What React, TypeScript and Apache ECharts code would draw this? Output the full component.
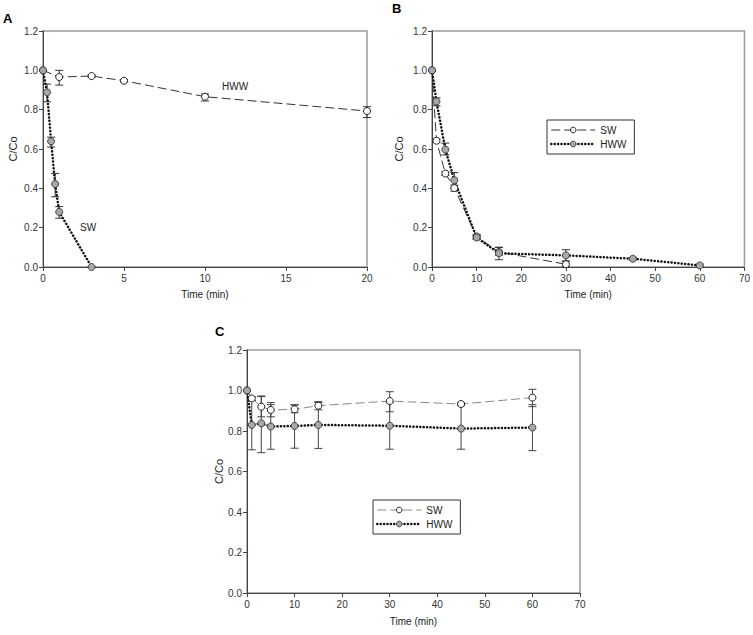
import React, { useEffect, useRef } from "react";
import * as echarts from "echarts";

// ---------- Data ----------
// Panel A
const aHwwX = [0, 1, 3, 5, 10, 20];
const aHwwY = [1.0, 0.966, 0.971, 0.947, 0.866, 0.793];
const aHwwLo = [1.0, 0.925, 0.965, 0.94, 0.844, 0.76];
const aHwwHi = [1.0, 1.0, 0.977, 0.954, 0.88, 0.815];
const aSwX = [0, 0.25, 0.5, 0.75, 1, 3];
const aSwY = [1.0, 0.888, 0.639, 0.422, 0.28, 0.0];
const aSwLo = [1.0, 0.84, 0.61, 0.357, 0.248, 0.0];
const aSwHi = [1.0, 0.93, 0.66, 0.476, 0.307, 0.0];

// Panel B
const bSwX = [0, 1, 3, 5, 10, 15, 30];
const bSwY = [1.0, 0.642, 0.475, 0.401, 0.155, 0.076, 0.014];
const bSwLo = [1.0, 0.632, 0.465, 0.386, 0.145, 0.06, 0.0];
const bSwHi = [1.0, 0.652, 0.485, 0.416, 0.165, 0.1, 0.03];
const bHwwX = [0, 1, 3, 5, 10, 15, 30, 45, 60];
const bHwwY = [1.0, 0.842, 0.597, 0.441, 0.15, 0.07, 0.059, 0.042, 0.008];
const bHwwLo = [1.0, 0.82, 0.57, 0.4, 0.14, 0.037, 0.03, 0.035, 0.0];
const bHwwHi = [1.0, 0.86, 0.63, 0.48, 0.16, 0.1, 0.088, 0.049, 0.015];

// Panel C
const cSwX = [0, 1, 3, 5, 10, 15, 30, 45, 60];
const cSwY = [1.0, 0.961, 0.92, 0.904, 0.907, 0.925, 0.948, 0.933, 0.965];
const cSwLo = [1.0, 0.95, 0.87, 0.87, 0.89, 0.905, 0.895, 0.925, 0.92];
const cSwHi = [1.0, 0.97, 0.973, 0.94, 0.928, 0.945, 0.994, 0.94, 1.006];
const cHwwX = [0, 1, 3, 5, 10, 15, 30, 45, 60];
const cHwwY = [1.0, 0.83, 0.838, 0.822, 0.825, 0.83, 0.826, 0.812, 0.817];
const cHwwLo = [1.0, 0.707, 0.693, 0.71, 0.715, 0.714, 0.71, 0.71, 0.703];
const cHwwHi = [1.0, 0.95, 0.97, 0.93, 0.93, 0.94, 0.94, 0.93, 0.93];

const yTickMin = 0;
const yTickMax = 1.2;
const yTickStep = 0.2;

const FONT = "'Liberation Sans', Arial, sans-serif";

const pts = (xs: number[], ys: number[]) => xs.map((x, i) => [x, ys[i]]);
const errs = (xs: number[], lo: number[], hi: number[]) =>
  xs.map((x, i) => [x, lo[i], hi[i]]);

function errorSeries(idx: number, data: number[][], color: string) {
  return {
    type: "custom",
    xAxisIndex: idx,
    yAxisIndex: idx,
    z: 1,
    silent: true,
    data,
    renderItem: (params: any, api: any) => {
      const x = api.value(0);
      const lo = api.value(1);
      const hi = api.value(2);
      const p1 = api.coord([x, lo]);
      const p2 = api.coord([x, hi]);
      const w = 4;
      const st = { stroke: color, lineWidth: 1 };
      return {
        type: "group",
        children: [
          { type: "line", shape: { x1: p1[0], y1: p1[1], x2: p2[0], y2: p2[1] }, style: st },
          { type: "line", shape: { x1: p1[0] - w, y1: p1[1], x2: p1[0] + w, y2: p1[1] }, style: st },
          { type: "line", shape: { x1: p2[0] - w, y1: p2[1], x2: p2[0] + w, y2: p2[1] }, style: st },
        ],
      };
    },
  };
}

const dashed = (color: string) => ({ color, width: 1, type: [9, 4] });
const dotted = { color: "#111", width: 2.5, type: [0.1, 3.3], cap: "round" };

function lineSeries(name: string, idx: number, data: number[][], open: boolean, ls: any) {
  return {
    type: "line",
    name,
    xAxisIndex: idx,
    yAxisIndex: idx,
    data,
    z: 3,
    symbol: "circle",
    symbolSize: 7,
    showSymbol: true,
    clip: false,
    lineStyle: ls,
    itemStyle: open
      ? { color: "#fff", borderColor: "#222", borderWidth: 1 }
      : { color: "#a8a8a8", borderColor: "#444", borderWidth: 1 },
    emphasis: { disabled: true },
  };
}

function xAxis(idx: number, max: number, interval: number, nameGap: number) {
  return {
    type: "value",
    gridIndex: idx,
    min: 0,
    max,
    interval,
    name: "Time (min)",
    nameLocation: "middle",
    nameGap,
    nameTextStyle: { fontFamily: FONT, fontSize: 10, color: "#222" },
    axisLine: { show: true, lineStyle: { color: "#444", width: 1 } },
    axisTick: { show: true, inside: false, length: 4, lineStyle: { color: "#444" } },
    axisLabel: { fontFamily: FONT, fontSize: 10, color: "#333", margin: 6 },
    splitLine: { show: false },
  };
}

function yAxis(idx: number, nameGap: number) {
  return {
    type: "value",
    gridIndex: idx,
    min: yTickMin,
    max: yTickMax,
    interval: yTickStep,
    name: "C/Co",
    nameLocation: "middle",
    nameGap,
    nameTextStyle: { fontFamily: FONT, fontSize: 11, color: "#222" },
    axisLine: { show: true, lineStyle: { color: "#444", width: 1 } },
    axisTick: { show: true, inside: false, length: 4, lineStyle: { color: "#444" } },
    axisLabel: {
      fontFamily: FONT,
      fontSize: 10,
      color: "#333",
      margin: 5,
      formatter: (v: number) => v.toFixed(1),
    },
    splitLine: { show: false },
  };
}

const legendBase = {
  orient: "vertical",
  borderColor: "#333",
  borderWidth: 1,
  padding: [5, 8, 5, 3],
  itemGap: 4,
  itemWidth: 44,
  itemHeight: 7,
  selectedMode: false,
  textStyle: { fontFamily: FONT, fontSize: 10, color: "#222" },
  formatter: (n: string) => n.split("-")[1],
};

const legendItems = (p: string, swColor: string) => [
  { name: `${p}-SW`, lineStyle: { width: 1, color: swColor, type: [9, 4] }, itemStyle: { borderWidth: 1 } },
  { name: `${p}-HWW`, lineStyle: { width: 2.5, color: "#111", type: [0.1, 3.3], cap: "round" }, itemStyle: { borderWidth: 1 } },
];

export default function App() {
  const ref = useRef<HTMLDivElement>(null);
  useEffect(() => {
    if (!ref.current) return;
    const chart = echarts.init(ref.current, undefined, { renderer: "svg" });
    const gridStyle = { show: true, borderColor: "#9a9a9a", borderWidth: 1.5, backgroundColor: "transparent" };
    chart.setOption({
      animation: false,
      backgroundColor: "#fff",
      grid: [
        { left: 43, top: 31, width: 324, height: 236, ...gridStyle },
        { left: 432, top: 31, width: 316, height: 236, ...gridStyle },
        { left: 247, top: 350, width: 333, height: 243, ...gridStyle },
      ],
      xAxis: [xAxis(0, 20, 5, 22), xAxis(1, 70, 10, 22), xAxis(2, 70, 10, 23)],
      yAxis: [yAxis(0, 25), yAxis(1, 28), yAxis(2, 18)],
      legend: [
        { ...legendBase, left: 547, top: 120, data: legendItems("B", "#333") },
        { ...legendBase, left: 373, top: 500, data: legendItems("C", "#888") },
      ],
      graphic: [
        { type: "text", left: 3, top: 12, style: { text: "A", fontFamily: FONT, fontSize: 13, fontWeight: "bold", fill: "#000" } },
        { type: "text", left: 392, top: 2, style: { text: "B", fontFamily: FONT, fontSize: 13, fontWeight: "bold", fill: "#000" } },
        { type: "text", left: 215, top: 325, style: { text: "C", fontFamily: FONT, fontSize: 13, fontWeight: "bold", fill: "#000" } },
        { type: "text", left: 222, top: 81, style: { text: "HWW", fontFamily: FONT, fontSize: 10, fill: "#222" } },
        { type: "text", left: 80, top: 222, style: { text: "SW", fontFamily: FONT, fontSize: 10, fill: "#222" } },
      ],
      series: [
        errorSeries(0, errs(aHwwX, aHwwLo, aHwwHi), "#333"),
        errorSeries(0, errs(aSwX, aSwLo, aSwHi), "#333"),
        lineSeries("A-HWW", 0, pts(aHwwX, aHwwY), true, dashed("#333")),
        lineSeries("A-SW", 0, pts(aSwX, aSwY), false, dotted),

        errorSeries(1, errs(bSwX, bSwLo, bSwHi), "#333"),
        errorSeries(1, errs(bHwwX, bHwwLo, bHwwHi), "#333"),
        lineSeries("B-SW", 1, pts(bSwX, bSwY), true, dashed("#333")),
        lineSeries("B-HWW", 1, pts(bHwwX, bHwwY), false, dotted),

        errorSeries(2, errs(cSwX, cSwLo, cSwHi), "#444"),
        errorSeries(2, errs(cHwwX, cHwwLo, cHwwHi), "#444"),
        lineSeries("C-SW", 2, pts(cSwX, cSwY), true, dashed("#888")),
        lineSeries("C-HWW", 2, pts(cHwwX, cHwwY), false, dotted),
      ],
    });
    return () => chart.dispose();
  }, []);
  return (
    <div
      ref={ref}
      style={{ position: "fixed", left: 0, top: 0, width: 753, height: 635, background: "#fff" }}
    />
  );
}
